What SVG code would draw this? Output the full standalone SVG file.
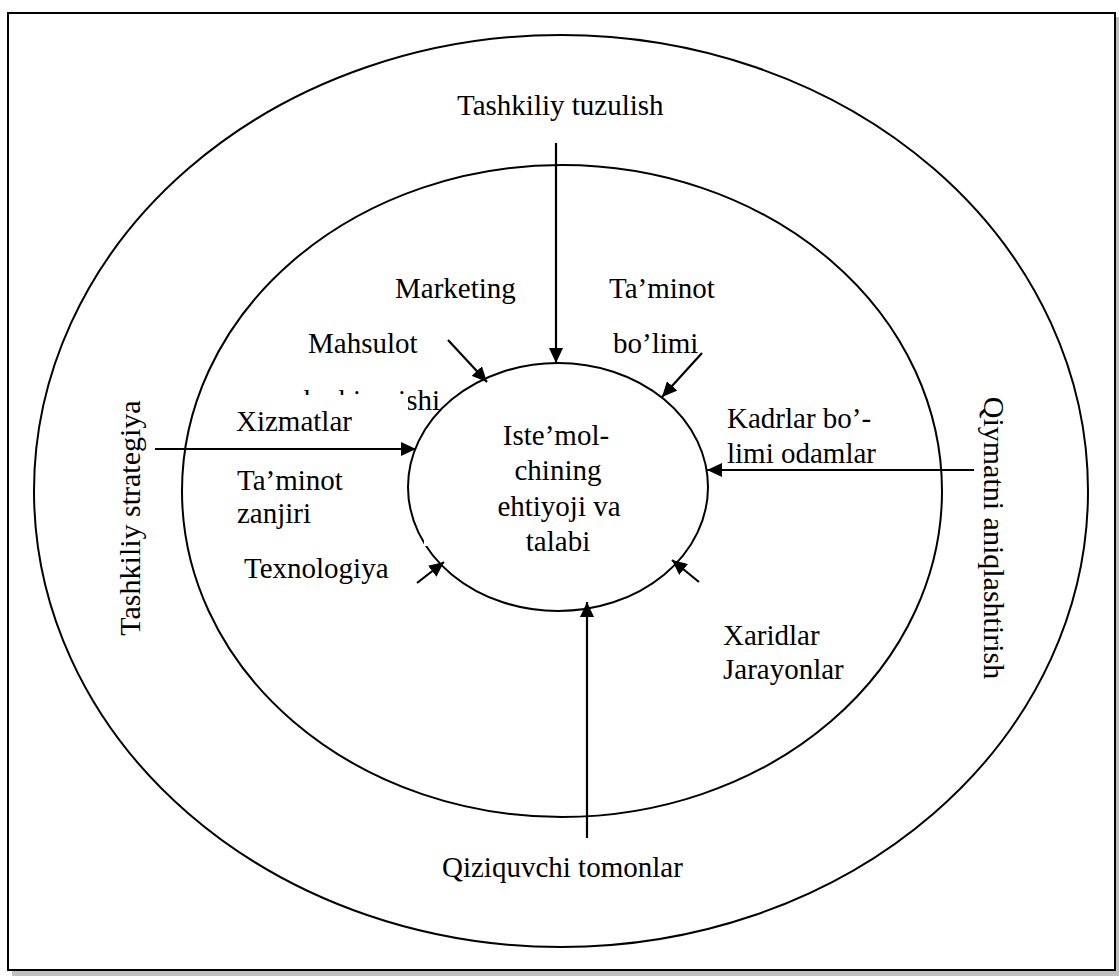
<svg xmlns="http://www.w3.org/2000/svg" width="1119" height="976" viewBox="0 0 1119 976">
  <style>
    .ring { fill: none; stroke: #000; stroke-width: 2; }
    .conn { fill: none; stroke: #000; stroke-width: 2.2; marker-end: url(#ah); }
    text { font-family: "Liberation Serif", "Times New Roman", serif; font-size: 29px; fill: #000; }
    .mid { text-anchor: middle; }
    .vert { font-size: 30px; text-anchor: middle; }
  </style>
  <defs>
    <marker id="ah" markerUnits="userSpaceOnUse" markerWidth="16" markerHeight="14" refX="15" refY="7" orient="auto">
      <path d="M0,0 L15,7 L0,14 Z" fill="#000"/>
    </marker>
    <clipPath id="partial">
      <rect x="290" y="389" width="118" height="6"/>
      <rect x="408" y="380" width="40" height="40"/>
    </clipPath>
  </defs>
  <rect width="1119" height="976" fill="#fff"/>
  <rect x="12" y="17" width="1107" height="959" fill="#c0c0c0"/>
  <rect x="8" y="13" width="1107" height="957" fill="#fff" stroke="#000" stroke-width="2"/>

  <g id="outer-ring">
    <ellipse class="ring" cx="561" cy="491" rx="527" ry="456"/>
  </g>
  <g id="inner-ring">
    <ellipse class="ring" cx="562" cy="491" rx="380" ry="326"/>
  </g>
  <g id="core">
    <ellipse class="ring" cx="558" cy="487" rx="150" ry="124"/>
    <rect x="424" y="537" width="10" height="9" fill="#fff"/>
    <text class="mid" x="556" y="445">Iste’mol-</text>
    <text class="mid" x="558" y="480">chining</text>
    <text class="mid" x="559" y="516">ehtiyoji va</text>
    <text class="mid" x="558" y="551">talabi</text>
  </g>

  <g id="connectors">
    <line class="conn" x1="556" y1="143" x2="556" y2="363"/>
    <line class="conn" x1="587" y1="838" x2="587" y2="602"/>
    <line class="conn" x1="155" y1="449" x2="416" y2="449"/>
    <line class="conn" x1="974" y1="470" x2="707" y2="470"/>
    <line class="conn" x1="448" y1="340" x2="487" y2="382"/>
    <line class="conn" x1="702" y1="353" x2="662" y2="397"/>
    <line class="conn" x1="417" y1="583" x2="444" y2="562"/>
    <line class="conn" x1="699" y1="582" x2="672" y2="560"/>
  </g>

  <g id="tashkiliy-tuzulish">
    <text x="457" y="115">Tashkiliy tuzulish</text>
  </g>
  <g id="qiziquvchi-tomonlar">
    <text x="442" y="877">Qiziquvchi tomonlar</text>
  </g>
  <g id="tashkiliy-strategiya">
    <text class="vert" transform="translate(140,518) rotate(-90)">Tashkiliy strategiya</text>
  </g>
  <g id="qiymatni-aniqlashtirish">
    <text class="vert" transform="translate(984,538) rotate(90)">Qiymatni aniqlashtirish</text>
  </g>
  <g id="marketing">
    <text x="395" y="298">Marketing</text>
  </g>
  <g id="taminot-bolimi">
    <text x="609" y="298">Ta’minot</text>
    <text x="613" y="353">bo’limi</text>
  </g>
  <g id="mahsulot">
    <text x="308" y="353">Mahsulot</text>
    <text x="440" y="410" text-anchor="end" clip-path="url(#partial)">ishlab chiqarishi</text>
  </g>
  <g id="xizmatlar">
    <text x="236" y="431">Xizmatlar</text>
  </g>
  <g id="taminot-zanjiri">
    <text x="237" y="490">Ta’minot</text>
    <text x="237" y="523">zanjiri</text>
  </g>
  <g id="texnologiya">
    <text x="244" y="578">Texnologiya</text>
  </g>
  <g id="kadrlar">
    <text x="727" y="428">Kadrlar bo’-</text>
    <text x="727" y="463">limi odamlar</text>
  </g>
  <g id="xaridlar">
    <text x="723" y="645">Xaridlar</text>
  </g>
  <g id="jarayonlar">
    <text x="723" y="679">Jarayonlar</text>
  </g>
</svg>
